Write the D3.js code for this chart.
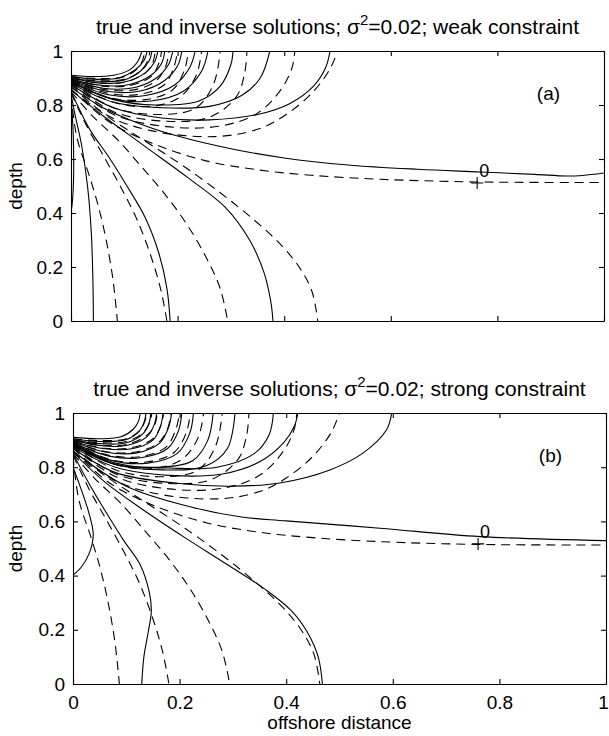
<!DOCTYPE html>
<html>
<head>
<meta charset="utf-8">
<script src="https://cdn.jsdelivr.net/npm/d3@7"></script>
<style>
  body { margin: 0; background: #fff; }
  svg { display: block; font-family: "Liberation Sans", Arial, sans-serif; }
</style>
</head>
<body>
<svg id="svg"></svg>
<script>
"use strict";
var width = 609;
var height = 736;

var xTicks = [0, 0.2, 0.4, 0.6, 0.8, 1];
var yTicks = [0, 0.2, 0.4, 0.6, 0.8, 1];
var tickLabels = ['0', '0.2', '0.4', '0.6', '0.8', '1'];

// true solution (dashed), same in both panels
var trueArcs = [
  [[0, 0.905], [0.05, 0.898], [0.1, 0.905], [0.125, 0.935], [0.135, 0.97], [0.138, 1]],
  [[0, 0.9], [0.05, 0.89], [0.1, 0.895], [0.13, 0.925], [0.144, 0.965], [0.148, 1]],
  [[0, 0.9], [0.05, 0.882], [0.1, 0.884], [0.14, 0.92], [0.154, 0.96], [0.158, 1]],
  [[0, 0.895], [0.06, 0.87], [0.11, 0.872], [0.15, 0.905], [0.165, 0.955], [0.17, 1]],
  [[0, 0.895], [0.06, 0.858], [0.12, 0.857], [0.16, 0.89], [0.178, 0.945], [0.184, 1]],
  [[0, 0.89], [0.07, 0.843], [0.13, 0.84], [0.175, 0.875], [0.193, 0.94], [0.2, 1]],
  [[0, 0.89], [0.07, 0.828], [0.14, 0.82], [0.19, 0.855], [0.213, 0.93], [0.22, 1]],
  [[0, 0.885], [0.08, 0.81], [0.15, 0.795], [0.205, 0.83], [0.235, 0.91], [0.245, 1]],
  [[0, 0.885], [0.08, 0.79], [0.17, 0.765], [0.235, 0.79], [0.268, 0.88], [0.28, 1]],
  [[0, 0.88], [0.08, 0.775], [0.18, 0.74], [0.26, 0.755], [0.31, 0.83], [0.326, 0.92], [0.33, 1]],
  [[0, 0.875], [0.08, 0.765], [0.18, 0.72], [0.28, 0.722], [0.35, 0.77], [0.395, 0.86], [0.415, 0.94], [0.42, 1]],
  [[0, 0.87], [0.07, 0.76], [0.15, 0.705], [0.27, 0.683], [0.35, 0.71], [0.4, 0.76], [0.45, 0.84], [0.485, 0.93], [0.5, 1]]
];
var trueLower = [
  [[0, 0.86], [0.07, 0.74], [0.15, 0.66], [0.25, 0.595], [0.35, 0.56], [0.45, 0.54], [0.58, 0.525], [0.76, 0.515], [1, 0.513]],
  [[0, 0.855], [0.07, 0.755], [0.14, 0.665], [0.21, 0.575], [0.28, 0.475], [0.34, 0.38], [0.39, 0.29], [0.428, 0.2], [0.452, 0.11], [0.463, 0]],
  [[0, 0.85], [0.04, 0.76], [0.088, 0.67], [0.135, 0.565], [0.18, 0.46], [0.22, 0.35], [0.255, 0.23], [0.28, 0.12], [0.294, 0]],
  [[0, 0.845], [0.03, 0.72], [0.06, 0.615], [0.095, 0.49], [0.125, 0.37], [0.15, 0.24], [0.168, 0.12], [0.18, 0]],
  [[0, 0.84], [0.011, 0.68], [0.034, 0.54], [0.052, 0.42], [0.067, 0.29], [0.079, 0.15], [0.087, 0]]
];

// inverse solution (solid), weak constraint
var invArcsA = [
  [[0, 0.91], [0.04, 0.905], [0.08, 0.91], [0.11, 0.93], [0.125, 0.96], [0.133, 1]],
  [[0, 0.905], [0.05, 0.895], [0.09, 0.9], [0.12, 0.93], [0.137, 0.965], [0.143, 1]],
  [[0, 0.9], [0.05, 0.888], [0.1, 0.893], [0.13, 0.925], [0.147, 0.965], [0.152, 1]],
  [[0, 0.9], [0.05, 0.882], [0.1, 0.885], [0.14, 0.92], [0.157, 0.96], [0.163, 1]],
  [[0, 0.895], [0.06, 0.872], [0.11, 0.876], [0.15, 0.91], [0.17, 0.955], [0.176, 1]],
  [[0, 0.895], [0.06, 0.862], [0.12, 0.865], [0.16, 0.9], [0.183, 0.95], [0.191, 1]],
  [[0, 0.89], [0.07, 0.85], [0.13, 0.852], [0.175, 0.89], [0.2, 0.945], [0.208, 1]],
  [[0, 0.89], [0.07, 0.838], [0.14, 0.835], [0.195, 0.875], [0.223, 0.94], [0.233, 1]],
  [[0, 0.885], [0.08, 0.822], [0.15, 0.815], [0.21, 0.85], [0.245, 0.925], [0.257, 1]],
  [[0, 0.885], [0.08, 0.82], [0.16, 0.8], [0.24, 0.815], [0.28, 0.87], [0.3, 0.95], [0.304, 1]],
  [[0, 0.88], [0.08, 0.81], [0.17, 0.79], [0.26, 0.795], [0.32, 0.835], [0.355, 0.9], [0.373, 1]],
  [[0, 0.875], [0.08, 0.79], [0.17, 0.752], [0.26, 0.745], [0.35, 0.765], [0.41, 0.805], [0.455, 0.87], [0.478, 0.94], [0.486, 1]]
];
var invLowerA = [
  [[0, 0.865], [0.06, 0.79], [0.13, 0.73], [0.2, 0.685], [0.3, 0.638], [0.4, 0.604], [0.52, 0.578], [0.65, 0.562], [0.767, 0.552], [0.87, 0.543], [0.93, 0.537], [0.96, 0.539], [1, 0.548]],
  [[0, 0.855], [0.06, 0.76], [0.14, 0.645], [0.22, 0.53], [0.29, 0.42], [0.335, 0.3], [0.362, 0.18], [0.375, 0.07], [0.379, 0]],
  [[0, 0.85], [0.036, 0.707], [0.07, 0.61], [0.105, 0.5], [0.14, 0.38], [0.165, 0.25], [0.18, 0.12], [0.186, 0]],
  [[0, 0.84], [0.008, 0.76], [0.02, 0.65], [0.031, 0.5], [0.038, 0.33], [0.041, 0.16], [0.042, 0]],
  [[0, 0.83], [0.004, 0.7], [0.005, 0.55], [0.003, 0.45], [0, 0.4]]
];

// inverse solution (solid), strong constraint
var invArcsB = [
  [[0, 0.91], [0.05, 0.905], [0.09, 0.912], [0.113, 0.94], [0.123, 0.97], [0.126, 1]],
  [[0, 0.905], [0.05, 0.895], [0.1, 0.902], [0.125, 0.935], [0.134, 0.97], [0.137, 1]],
  [[0, 0.9], [0.05, 0.887], [0.1, 0.89], [0.132, 0.925], [0.143, 0.965], [0.146, 1]],
  [[0, 0.9], [0.05, 0.88], [0.1, 0.88], [0.14, 0.915], [0.153, 0.96], [0.157, 1]],
  [[0, 0.895], [0.06, 0.868], [0.11, 0.868], [0.15, 0.9], [0.164, 0.95], [0.169, 1]],
  [[0, 0.895], [0.06, 0.856], [0.12, 0.853], [0.163, 0.89], [0.179, 0.945], [0.185, 1]],
  [[0, 0.89], [0.07, 0.84], [0.13, 0.836], [0.178, 0.87], [0.198, 0.935], [0.204, 1]],
  [[0, 0.89], [0.07, 0.826], [0.14, 0.815], [0.195, 0.85], [0.219, 0.925], [0.226, 1]],
  [[0, 0.885], [0.08, 0.815], [0.16, 0.8], [0.225, 0.825], [0.253, 0.9], [0.263, 1]],
  [[0, 0.885], [0.08, 0.81], [0.17, 0.79], [0.25, 0.805], [0.29, 0.87], [0.304, 1]],
  [[0, 0.88], [0.08, 0.81], [0.18, 0.797], [0.27, 0.8], [0.34, 0.85], [0.368, 0.92], [0.376, 1]],
  [[0, 0.875], [0.08, 0.8], [0.18, 0.77], [0.28, 0.775], [0.35, 0.82], [0.395, 0.89], [0.415, 0.95], [0.422, 1]],
  [[0, 0.87], [0.08, 0.78], [0.2, 0.74], [0.3, 0.73], [0.388, 0.742], [0.482, 0.79], [0.544, 0.852], [0.588, 0.937], [0.598, 1]]
];
var invLowerB = [
  [[0, 0.86], [0.1, 0.73], [0.22, 0.654], [0.313, 0.617], [0.4, 0.602], [0.576, 0.575], [0.764, 0.544], [1, 0.529]],
  [[0, 0.855], [0.06, 0.745], [0.13, 0.645], [0.21, 0.54], [0.29, 0.44], [0.36, 0.35], [0.41, 0.27], [0.44, 0.19], [0.46, 0.1], [0.468, 0]],
  [[0, 0.85], [0.03, 0.74], [0.06, 0.64], [0.095, 0.53], [0.126, 0.44], [0.143, 0.34], [0.147, 0.27], [0.141, 0.19], [0.133, 0.1], [0.129, 0]],
  [[0, 0.8], [0.015, 0.72], [0.03, 0.63], [0.038, 0.55], [0.03, 0.48], [0.015, 0.43], [0, 0.402]]
];

var zeroMarkA = [0.762, 0.511];
var zeroMarkB = [0.76, 0.517];

var panels = [
  { left: 71, right: 604, top: 51, bottom: 321, constraint: 'weak', tag: '(a)',
    arcs: invArcsA, lower: invLowerA, mark: zeroMarkA, xLabels: false, xTitle: false },
  { left: 73, right: 606, top: 413, bottom: 684, constraint: 'strong', tag: '(b)',
    arcs: invArcsB, lower: invLowerB, mark: zeroMarkB, xLabels: true, xTitle: true }
];

var svg = d3.select('#svg')
    .attr('width', width)
    .attr('height', height)
    .attr('viewBox', '0 0 ' + width + ' ' + height);

svg.append('rect').attr('width', width).attr('height', height).attr('fill', '#fff');

panels.forEach(function (p, i) {
  var x = d3.scaleLinear().domain([0, 1]).range([p.left, p.right]);
  var y = d3.scaleLinear().domain([0, 1]).range([p.bottom, p.top]);
  var line = d3.line()
      .x(function (d) { return x(d[0]); })
      .y(function (d) { return y(d[1]); })
      .curve(d3.curveCatmullRom.alpha(0.5));

  var clipId = 'clip' + i;
  svg.append('clipPath').attr('id', clipId)
    .append('rect')
    .attr('x', p.left).attr('y', p.top)
    .attr('width', p.right - p.left).attr('height', p.bottom - p.top);

  var g = svg.append('g').attr('clip-path', 'url(#' + clipId + ')');

  // true solution, dashed
  g.selectAll('path.true')
    .data(trueArcs.concat(trueLower))
    .enter()
    .append('path')
    .attr('class', 'true')
    .attr('d', line)
    .attr('fill', 'none')
    .attr('stroke', '#000')
    .attr('stroke-width', 1.1)
    .attr('stroke-dasharray', '9,6');

  // inverse solution, solid
  g.selectAll('path.inv')
    .data(p.arcs.concat(p.lower))
    .enter()
    .append('path')
    .attr('class', 'inv')
    .attr('d', line)
    .attr('fill', 'none')
    .attr('stroke', '#000')
    .attr('stroke-width', 1.1);

  // axes, ticks pointing inward on all sides
  var axes = [
    { ax: d3.axisBottom(x), tr: 'translate(0,' + p.bottom + ')', labels: p.xLabels },
    { ax: d3.axisTop(x), tr: 'translate(0,' + p.top + ')', labels: false },
    { ax: d3.axisLeft(y), tr: 'translate(' + p.left + ',0)', labels: true },
    { ax: d3.axisRight(y), tr: 'translate(' + p.right + ',0)', labels: false }
  ];
  axes.forEach(function (a, k) {
    a.ax.tickValues(k < 2 ? xTicks : yTicks)
      .tickSizeInner(-5)
      .tickSizeOuter(0)
      .tickPadding(k < 2 ? 12 : 8)
      .tickFormat(function (d, j) { return a.labels ? tickLabels[j] : ''; });
    var ag = svg.append('g').attr('transform', a.tr).call(a.ax);
    ag.selectAll('path, line').attr('stroke', '#000').attr('stroke-width', 1.1);
    ag.selectAll('text').attr('fill', '#000').style('font-size', '19px')
      .style('font-family', '"Liberation Sans", Arial, sans-serif');
    if (k === 0) {
      // keep the last label inside the picture
      ag.selectAll('.tick:last-of-type text').attr('dx', -3);
    }
  });

  // title with superscript
  var title = svg.append('text')
      .attr('x', (p.left + p.right) / 2)
      .attr('y', p.top - 17)
      .attr('text-anchor', 'middle')
      .style('font-size', '21px')
      .attr('fill', '#000');
  title.append('tspan').text('true and inverse solutions; \u03c3');
  title.append('tspan').attr('dy', -9).style('font-size', '15px').text('2');
  title.append('tspan').attr('dy', 9).text('=0.02; ' + p.constraint + ' constraint');

  // y label
  svg.append('text')
    .attr('transform', 'translate(22,' + ((p.top + p.bottom) / 2) + ') rotate(-90)')
    .attr('text-anchor', 'middle')
    .style('font-size', '19px')
    .attr('fill', '#000')
    .text('depth');

  // panel tag
  svg.append('text')
    .attr('x', x(0.874))
    .attr('y', y(0.82))
    .style('font-size', '19px')
    .attr('fill', '#000')
    .text(p.tag);

  // zero contour label
  var mx = x(p.mark[0]), my = y(p.mark[1]);
  svg.append('path')
    .attr('d', 'M' + (mx - 6) + ',' + my + 'H' + (mx + 6) + 'M' + mx + ',' + (my - 6) + 'V' + (my + 6))
    .attr('stroke', '#000')
    .attr('stroke-width', 1.1);
  svg.append('text')
    .attr('x', mx + 2)
    .attr('y', my - 6)
    .style('font-size', '18px')
    .attr('fill', '#000')
    .text('0');

  if (p.xTitle) {
    svg.append('text')
      .attr('x', (p.left + p.right) / 2)
      .attr('y', p.bottom + 45)
      .attr('text-anchor', 'middle')
      .style('font-size', '19px')
      .attr('fill', '#000')
      .text('offshore distance');
  }
});
</script>
</body>
</html>
